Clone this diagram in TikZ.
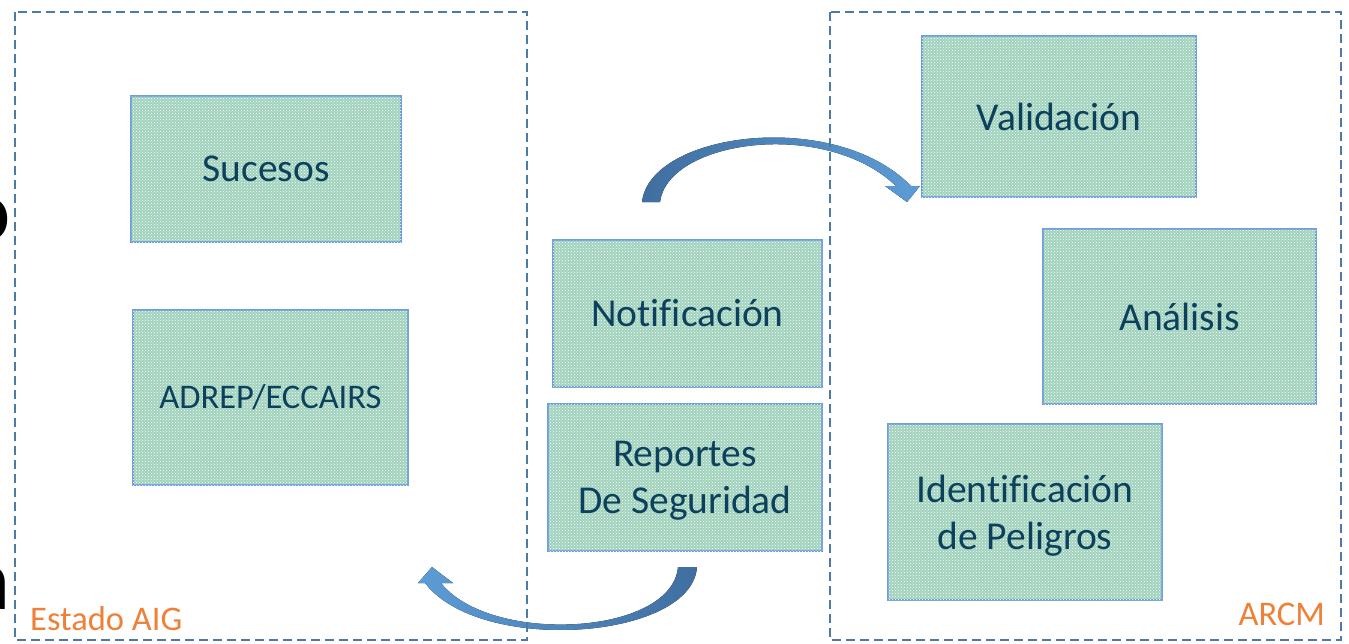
\documentclass[tikz,border=0pt]{standalone}
\usepackage{fontspec}
\setmainfont{Carlito}[Ligatures=NoCommon]
\usepackage{tikz}
\usetikzlibrary{patterns}

\definecolor{framebl}{RGB}{78,122,168}
\definecolor{boxedge}{RGB}{112,160,216}
\definecolor{boxfill}{RGB}{160,210,188}
\definecolor{txtteal}{RGB}{12,64,92}
\definecolor{lblorange}{RGB}{239,128,55}
\definecolor{arrowdark}{RGB}{64,110,160}
\definecolor{arrowlight}{RGB}{92,156,214}

\tikzset{
  stage/.style={draw=boxedge, line width=2.2pt, fill=boxfill,
    postaction={pattern=crosshatch dots, pattern color=white},
    text=txtteal, font=\fontsize{39.5}{47}\selectfont, align=center, inner sep=0pt},
  region/.style={draw=framebl, line width=2pt, dash pattern=on 9pt off 5pt},
  tag/.style={text=lblorange, font=\fontsize{34.5}{40}\selectfont, inner sep=0pt},
}

\begin{document}
\begin{tikzpicture}[x=1pt, y=-1pt]
\useasboundingbox (0,0) rectangle (1349,643);

% cut-off letters at the left edge
\node (cutO) [anchor=base east, font=\fontsize{88}{100}\selectfont, inner sep=0pt] at (11,240) {o};
\node (cutA) [anchor=base east, font=\fontsize{88}{100}\selectfont, inner sep=0pt] at (11,609) {a};

% Estado AIG side
\node (Sucesos) [stage, minimum width=270pt, minimum height=146pt] at (266,169) {Sucesos};
\node (Adrep) [stage, minimum width=275pt, minimum height=175pt, font=\fontsize{34.5}{40}\selectfont] at (270.5,397.5) {ADREP/ECCAIRS};

% middle
\node (Notif) [stage, minimum width=269pt, minimum height=147pt] at (687.5,313.5) {Notificación};
\node (Reportes) [stage, minimum width=274pt, minimum height=147pt, text depth=0pt] at (685,477.5) {Reportes\\De Seguridad};

% ARCM side
\node (Valid) [stage, minimum width=274pt, minimum height=161pt] at (1059,116.5) {Validación};
\node (Analisis) [stage, minimum width=273pt, minimum height=175pt] at (1179.5,316.5) {Análisis};
\node (Peligros) [stage, minimum width=274pt, minimum height=176pt, text depth=0pt] at (1025,512) {Identificación\\de Peligros};

% curved block arrows
\fill[left color=arrowdark, right color=arrowlight]
  (642,202) .. controls (650,132) and (835,108) .. (911,186) -- (920,186) -- (907,202)
  -- (885,186) -- (896,186) .. controls (825,118) and (668,140) .. (660,202) -- cycle;
\fill[left color=arrowlight, right color=arrowdark]
  (697,567) .. controls (692,640) and (480,655) .. (425,583) -- (418,583) -- (432,567)
  -- (453,583) -- (441,583) .. controls (490,645) and (672,636) .. (678,567) -- cycle;

% dashed regions
\draw[region] (15,12) rectangle (527,640);
\draw[region] (830,12) rectangle (1341,640);
\node (EstadoAIG) [tag, anchor=base west] at (30,630) {Estado AIG};
\node (ARCM) [tag, anchor=base east] at (1325,625) {ARCM};

\end{tikzpicture}
\end{document}
